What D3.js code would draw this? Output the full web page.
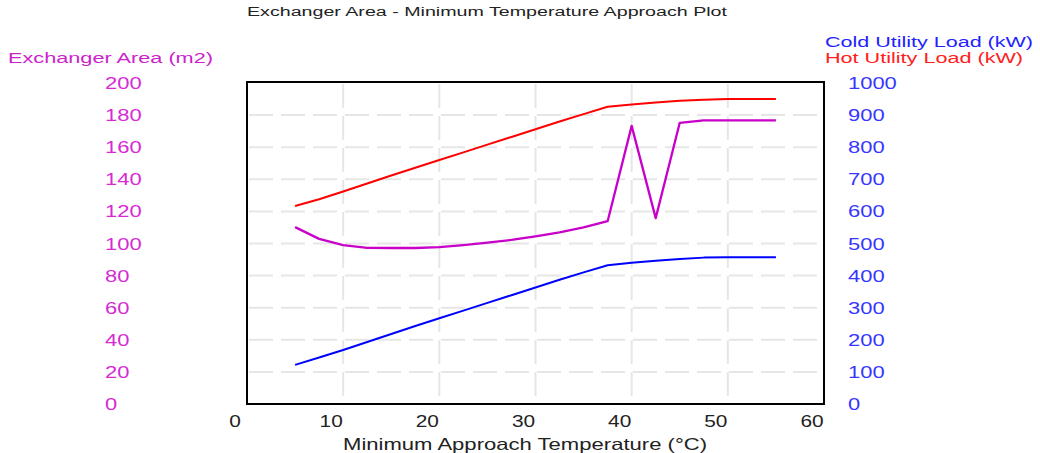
<!DOCTYPE html>
<html>
<head>
<meta charset="utf-8">
<script src="https://cdn.jsdelivr.net/npm/d3@7"></script>
<style>
  body { margin: 0; background: #fff; }
  text { font-family: "Liberation Sans", Arial, sans-serif; }
</style>
</head>
<body>
<script>
// data
let dtMin = [5, 7.5, 10, 12.5, 15, 17.5, 20, 22.5, 25, 27.5, 30, 32.5, 35, 37.5, 40, 42.5, 45, 47.5, 50, 52.5, 55]
let area = [110.2, 102.9, 99.0, 97.3, 97.2, 97.2, 97.8, 99.0, 100.5, 102.2, 104.5, 107.0, 110.0, 113.9, 173.3, 115.8, 175.2, 176.7, 176.7, 176.7, 176.7]
let coldLoad = [122, 145, 168, 193, 218, 243, 267, 291, 315, 339, 363, 387, 410, 432, 440, 446, 452, 456, 457, 457, 457]
let hotLoad = [617, 638, 662, 687, 712, 736, 760, 784, 808, 832, 856, 880, 903, 926, 933, 939, 945, 948, 950, 950, 950]

let xTicks = [0, 10, 20, 30, 40, 50, 60]
let areaTicks = [0, 20, 40, 60, 80, 100, 120, 140, 160, 180, 200]
let loadTicks = [0, 100, 200, 300, 400, 500, 600, 700, 800, 900, 1000]

let w = 1040
let h = 453
let plotL = 247, plotR = 824, plotT = 82, plotB = 404

let svg = d3.select("body")
    .append("svg")
    .attr("width", w)
    .attr("height", h)

let x = d3.scaleLinear().domain([0, 60]).range([plotL, plotR])
let yArea = d3.scaleLinear().domain([0, 200]).range([plotB, plotT + 1])
let yLoad = d3.scaleLinear().domain([0, 1000]).range([plotB, plotT + 1])

// the picture is horizontally stretched, so widths are forced with textLength
function label(g, txt, px, py, size, color, len, anchor) {
    return g.append("text")
        .attr("x", px)
        .attr("y", py)
        .attr("font-size", size)
        .attr("fill", color)
        .attr("text-anchor", anchor || "start")
        .attr("textLength", len)
        .attr("lengthAdjust", "spacingAndGlyphs")
        .text(txt)
}

// grid
let grid = svg.append("g")
    .attr("stroke", "#e6e6e6")
    .attr("stroke-width", 2)
    .attr("stroke-dasharray", "24,8")

grid.selectAll("line.v")
    .data(xTicks.slice(1, -1))
    .enter()
    .append("line")
    .attr("x1", d => x(d))
    .attr("x2", d => x(d))
    .attr("y1", plotT + 2)
    .attr("y2", plotB - 1)

grid.selectAll("line.h")
    .data(areaTicks.slice(1, -1))
    .enter()
    .append("line")
    .attr("x1", plotL + 2)
    .attr("x2", plotR - 1)
    .attr("y1", d => yArea(d))
    .attr("y2", d => yArea(d))

// lines
let series = [
    { vals: hotLoad, y: yLoad, color: "#ff0000", sw: 2 },
    { vals: coldLoad, y: yLoad, color: "#0000ff", sw: 2 },
    { vals: area, y: yArea, color: "#c800c8", sw: 2.3 }
]

for (let s of series) {
    let line = d3.line()
        .x((d, i) => x(dtMin[i]))
        .y(d => s.y(d))
    svg.append("path")
        .datum(s.vals)
        .attr("fill", "none")
        .attr("stroke", s.color)
        .attr("stroke-width", s.sw)
        .attr("stroke-linejoin", "round")
        .attr("d", line)
}

// frame
svg.append("rect")
    .attr("x", plotL)
    .attr("y", plotT)
    .attr("width", plotR - plotL)
    .attr("height", plotB - plotT)
    .attr("fill", "none")
    .attr("stroke", "#000")
    .attr("stroke-width", 2)

// tick labels
let ticks = svg.append("g")
for (let t of areaTicks) {
    label(ticks, t, 105, yArea(t) + 6, 16, "#d52ad5", String(t).length * 12.2)
}
for (let t of loadTicks) {
    label(ticks, t, 848, yLoad(t) + 6, 16, "#3636ff", String(t).length * 12.2)
}
for (let t of xTicks) {
    label(ticks, t, x(t) - 12, 427, 16, "#222", String(t).length * 11.6, "middle")
}

// titles
label(svg, "Exchanger Area - Minimum Temperature Approach Plot", 247, 16, 12.5, "#222", 480)
label(svg, "Exchanger Area (m2)", 8, 63, 14, "#cc22cc", 205)
label(svg, "Cold Utility Load (kW)", 825, 47, 14, "#2222ff", 208)
label(svg, "Hot Utility Load (kW)", 825, 63, 14, "#ff2020", 198)
label(svg, "Minimum Approach Temperature (°C)", 343, 450, 16.5, "#222", 364)
</script>
</body>
</html>
